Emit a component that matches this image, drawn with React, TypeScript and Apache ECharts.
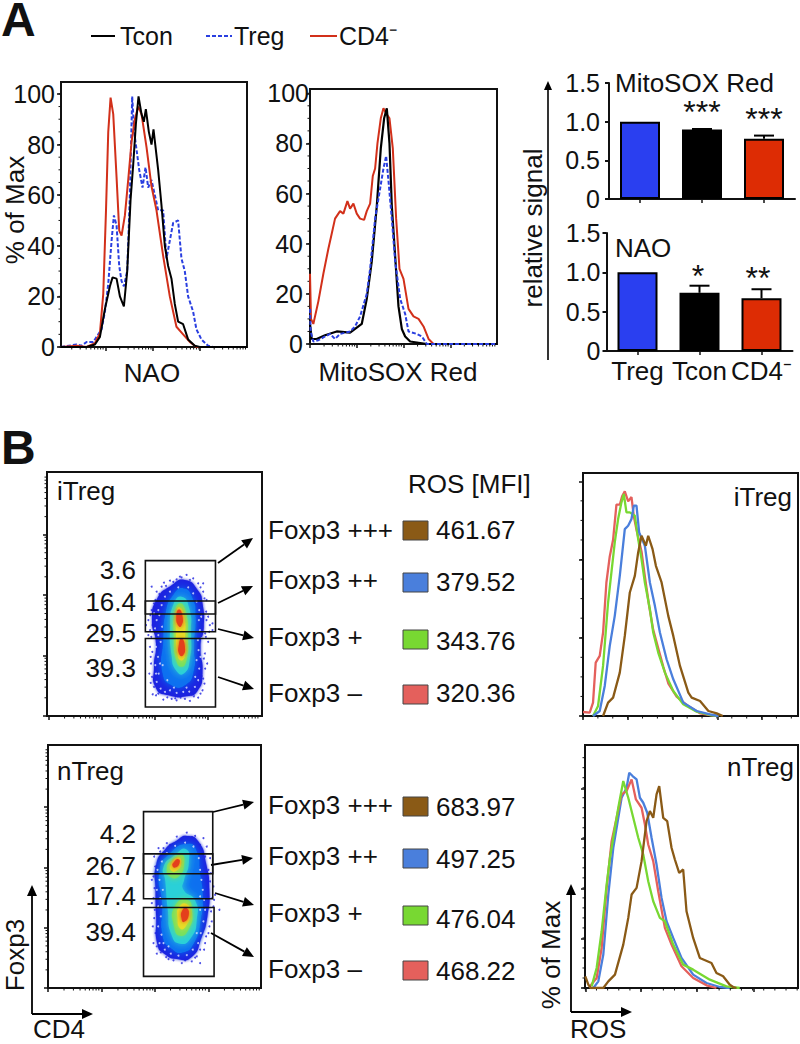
import React, { useEffect, useRef } from "react";
import * as echarts from "echarts";

// ---------- panel A histograms: [channel, % of max] ----------
const naoTcon = [[183,0],[260,0],[285,1],[300,4],[315,15],[330,24],[338,27.5],[350,27],[360,20],[372,16],[382,30],[392,58],[400,72],[408,88],[416,99],[425,92],[432,89],[438,94],[447,85],[455,80],[461,86],[468,78],[475,70],[485,56],[495,40],[505,32],[515,27],[525,17],[535,10],[550,9],[565,3],[585,0.5],[600,0],[742,0]];
const naoTreg = [[183,0],[230,1],[245,0.5],[260,2],[280,2],[295,5],[305,7],[315,14],[325,25],[335,42],[342,52],[350,48],[358,32],[365,26],[372,24],[382,30],[390,60],[397,99],[403,85],[410,78],[418,70],[428,63],[437,71],[445,63],[455,66],[465,60],[475,54],[490,54],[500,35],[510,42],[520,49],[535,50],[545,35],[555,30],[565,20],[580,14],[590,7],[605,3],[625,0.5],[640,0],[742,0]];
const naoCd4 = [[183,0],[230,0.5],[260,0],[285,1.5],[300,5.5],[310,21],[318,53],[325,85],[332,98.5],[340,92],[350,67],[358,46],[365,44],[375,52],[385,66],[395,81],[405,90],[415,95],[425,92],[440,79],[455,63.5],[470,54],[490,36],[510,20],[530,8],[550,5],[570,2],[590,0],[742,0]];
const mitoTcon = [[150,8],[155,2],[170,2],[195,3.5],[230,5],[270,4.5],[285,6],[305,8],[320,18],[335,33],[350,55],[362,78],[372,90],[380,94],[388,80],[395,55],[405,35],[415,15],[425,6],[435,3],[450,1],[475,0.5],[500,0],[710,0]];
const mitoTreg = [[150,14],[152,5],[160,1],[175,1.5],[195,3],[210,4],[225,2],[240,4],[270,5],[285,7],[300,11],[320,20],[330,30],[345,50],[360,62],[370,70],[378,75],[385,65],[395,50],[405,33],[420,18],[435,12],[445,5],[470,4],[485,3],[500,0],[710,0]];
const mitoCd4 = [[150,28],[153,10],[160,8],[175,17],[190,28],[205,38],[215,44],[225,50],[240,53],[250,52],[262,57],[270,54],[280,56],[290,52],[300,50],[312,49.5],[320,53],[330,56],[338,67],[345,70],[352,80],[362,90],[370,94],[378,92],[388,90],[398,78],[408,50],[418,30],[430,26],[445,14],[460,11],[475,10],[490,7],[505,2],[520,0],[710,0]];

// ---------- panel A bars ----------
const barCategories = ["Treg", "Tcon", "CD4⁻"];
const barColors = ["#2a3ff0", "#000000", "#dd2c04"];
const mitoBars = [1.0, 0.9, 0.78];
const mitoErrors = [0, 0.005, 0.04];
const naoBars = [1.0, 0.74, 0.67];
const naoErrors = [0, 0.09, 0.115];

// ---------- panel B ROS histograms: [channel, counts] ----------
const iHistRed = [[40,12],[60,10],[70,40],[78,160],[90,180],[100,250],[110,400],[120,478],[130,528],[140,633],[150,633],[157,658],[165,673],[175,643],[185,656],[192,598],[200,558],[215,493],[225,418],[238,328],[250,258],[265,203],[280,148],[295,98],[320,58],[350,33],[390,8],[420,3],[445,0]];
const iHistGreen = [[70,0],[85,30],[100,150],[115,340],[125,430],[135,520],[145,590],[155,640],[162,665],[170,610],[180,610],[195,600],[205,530],[215,470],[225,400],[240,320],[250,250],[265,190],[285,130],[310,75],[340,35],[380,13],[420,3],[445,0]];
const iHistBlue = [[70,0],[90,15],[105,90],[120,210],[135,300],[150,420],[165,560],[175,570],[185,590],[192,630],[200,630],[208,550],[225,510],[240,400],[255,330],[270,250],[290,170],[310,110],[340,40],[380,15],[420,5],[445,0]];
const iHistBrown = [[100,0],[115,40],[130,55],[150,130],[165,240],[180,370],[195,420],[205,490],[215,540],[228,510],[235,540],[248,500],[258,450],[275,400],[295,300],[310,240],[330,150],[355,70],[365,55],[390,45],[415,15],[440,8],[458,0]];
const nHistBlue = [[100,0],[115,20],[130,100],[145,280],[160,420],[175,510],[185,570],[200,600],[208,645],[218,635],[230,625],[240,570],[250,555],[262,525],[275,450],[290,370],[305,270],[320,200],[340,150],[365,90],[400,40],[440,15],[480,3],[510,0]];
const nHistRed = [[90,5],[110,30],[125,120],[140,300],[155,440],[170,510],[185,580],[200,590],[215,625],[228,565],[245,540],[255,490],[265,430],[280,380],[295,290],[315,180],[335,130],[365,65],[400,30],[440,8],[470,0]];
const nHistGreen = [[95,5],[110,60],[125,170],[140,310],[150,390],[160,450],[175,540],[190,620],[205,570],[220,510],[235,450],[250,400],[265,320],[280,260],[300,210],[315,200],[340,130],[370,70],[400,55],[450,25],[500,5],[540,0]];
const nHistBrown = [[76,35],[85,10],[92,0],[130,0],[145,20],[165,40],[190,130],[205,210],[215,280],[230,300],[245,380],[260,500],[270,530],[280,510],[290,580],[298,605],[310,510],[322,500],[335,420],[345,385],[358,345],[370,355],[380,230],[400,150],[420,90],[455,75],[470,45],[490,35],[510,10],[520,3],[530,0]];

// ---------- panel B dot plots: density contours [CD4, Foxp3 channel] (Foxp3 axis runs top-down) ----------
const densityColors = ["#1e22e0", "#0a70f0", "#2cd0d8", "#78e060", "#e6dc28", "#e4401a"];
const densityBlur = [3, 8, 8, 6, 5, 4];
const iTregContours = [
  [0, [[465,360],[505,392],[518,430],[522,500],[512,560],[518,640],[503,692],[470,708],[415,705],[378,684],[372,620],[378,550],[366,480],[382,415],[422,378]]],
  [1, [[460,385],[488,415],[497,470],[492,560],[492,630],[465,675],[425,675],[398,640],[400,540],[408,455],[430,405]]],
  [2, [[455,410],[478,445],[483,520],[480,595],[462,640],[438,630],[425,585],[421,500],[430,435]]],
  [3, [[450,430],[468,458],[474,530],[470,598],[455,620],[438,597],[432,530],[434,462]]],
  [4, [[448,442],[463,470],[466,540],[465,588],[452,600],[442,578],[438,510],[439,462]]],
  [5, [[447,448],[458,470],[454,498],[446,498],[439,470]]],
  [5, [[455,535],[465,560],[459,586],[448,582],[447,552]]],
];
const nTregContours = [
  [0, [[560,318],[595,335],[618,400],[628,480],[622,560],[604,625],[575,682],[530,688],[492,672],[472,645],[468,560],[466,480],[468,405],[495,358],[530,332]]],
  [1, [[565,342],[590,365],[600,430],[608,500],[602,570],[584,635],[548,668],[512,655],[488,622],[486,520],[478,425],[508,372]]],
  [2, [[558,358],[566,400],[552,450],[550,480],[585,512],[590,570],[572,625],[540,642],[514,615],[503,540],[495,450],[490,412],[522,378]]],
  [3, [[545,375],[552,400],[538,438],[512,442],[500,415],[517,390]]],
  [3, [[560,510],[576,545],[566,598],[540,618],[522,590],[523,532]]],
  [4, [[535,383],[543,400],[530,422],[514,423],[512,405]]],
  [4, [[558,522],[570,550],[558,588],[541,597],[532,560],[537,532]]],
  [5, [[535,388],[538,400],[525,413],[517,408],[521,397]]],
  [5, [[558,534],[566,555],[551,577],[544,565],[546,543]]],
];
const iTregSpeckle = [[470,345],[490,355],[440,358],[505,370],[420,362],[395,380],[520,395],[380,395],[530,420],[365,380],[372,430],[355,480],[360,510],[348,495],[535,470],[540,495],[528,530],[525,580],[532,610],[520,655],[518,690],[505,712],[480,722],[440,720],[400,718],[378,705],[362,668],[358,640],[362,590],[360,560],[548,490],[515,648],[425,716],[452,712],[368,702],[355,525],[520,370],[402,368],[450,350],[535,545],[365,450],[361,465],[368,495],[364,530],[367,575],[363,610],[366,650],[372,680],[385,700],[412,711],[436,714],[465,716],[492,708],[512,700],[524,670],[526,625],[522,595],[526,520],[529,455],[524,415],[512,382],[480,360],[455,352],[430,366],[408,378],[388,402],[376,420],[548,510],[538,515],[530,480]];
const iTregHoles = [[372,460],[380,480],[375,505],[385,525],[378,560],[384,590],[376,615],[386,640],[380,665],[392,685],[405,695],[420,690],[440,698],[460,695],[478,694],[495,680],[505,660],[508,625],[500,600],[506,570],[504,540],[510,510],[507,480],[508,450],[500,425],[490,400],[475,382],[445,382],[420,395],[405,410],[395,435],[388,465],[396,500],[392,545],[398,615],[412,660],[432,682],[470,682],[496,650],[512,590],[515,535],[514,470],[385,450],[378,640],[390,610],[368,520]];
const nTregSpeckle = [[560,308],[585,318],[610,325],[530,320],[500,340],[475,355],[632,430],[640,470],[645,495],[640,530],[658,540],[635,575],[625,610],[615,640],[600,700],[575,695],[545,700],[505,688],[470,672],[460,640],[458,590],[455,520],[455,450],[462,380],[620,350],[630,385],[642,510],[612,660],[590,680],[480,365],[465,410],[460,440],[463,475],[460,505],[464,540],[462,565],[466,610],[470,650],[482,668],[498,682],[520,692],[555,692],[585,684],[600,660],[618,620],[628,590],[633,545],[636,505],[630,455],[625,420],[615,380],[600,345],[575,322],[545,328],[510,345],[490,355]];
const nTregHoles = [[472,420],[478,450],[470,480],[480,505],[474,530],[482,560],[474,590],[484,615],[478,640],[494,660],[512,672],[535,678],[560,676],[578,660],[594,640],[602,610],[610,575],[615,540],[612,510],[608,480],[604,450],[600,420],[596,385],[580,350],[555,338],[525,348],[500,370],[485,395],[490,640],[505,650],[590,610],[600,540],[600,500],[488,480],[484,530]];

// ---------- gates, [x0, y0, x1, y1] ----------
const iTregGates = [[346,302,557,515],[346,423,557,462],[346,535,557,740]];
const nTregGates = [[430,245,638,507],[430,372,638,432],[430,533,642,740]];

// ---------- tick positions ----------
const naoMajor = [172, 316, 460, 600];
const mitoMajor = [150, 290, 430, 570];
const iFlowXMajor = [55, 215, 375, 533];
const iFlowYMajor = [767, 587, 405, 225];
const nFlowXMajor = [143, 305, 463, 625];
const nFlowYMajor = [775, 595, 413, 232];
const iHistXMajor = [40, 175, 308, 442, 575];
const iHistYMajor = [0, 233, 468, 703];
const nHistXMajor = [76, 243, 412, 582];
const nHistYMajor = [0, 147, 296, 446, 596];

// ---------- panel B table ----------
const populations = ["Foxp3 +++", "Foxp3 ++", "Foxp3 +", "Foxp3 –"];
const rosColors = ["#8a5a16", "#4a7fdc", "#78d832", "#e4605c"];
const iTregMfi = ["461.67", "379.52", "343.76", "320.36"];
const nTregMfi = ["683.97", "497.25", "476.04", "468.22"];
const iTregPercents = ["3.6", "16.4", "29.5", "39.3"];
const nTregPercents = ["4.2", "26.7", "17.4", "39.4"];

const FONT = '"Liberation Sans", Arial, sans-serif';
const logMinor = (majors: number[], decade: number, max: number, sign = 1) => {
  const out: number[] = [];
  majors.forEach((m) => {
    for (let k = 2; k <= 9; k++) {
      const v = m + sign * decade * Math.log10(k);
      if ((sign > 0 && v <= max) || (sign < 0 && v >= max)) out.push(v);
    }
  });
  return out;
};
const evenMinor = (min: number, max: number, step: number) => {
  const out: number[] = [];
  for (let v = min; v <= max; v += step) out.push(v);
  return out;
};

function buildOption() {
  const grids = [
    { left: 61, top: 82, width: 186, height: 265 },
    { left: 310, top: 89, width: 187, height: 255 },
    { left: 609, top: 83, width: 186, height: 116 },
    { left: 606.5, top: 233, width: 186, height: 118 },
    { left: 47, top: 472, width: 215, height: 244 },
    { left: 583, top: 473, width: 215, height: 243 },
    { left: 48, top: 745, width: 213, height: 243 },
    { left: 585, top: 745, width: 213, height: 243 },
  ].map((g, i) => ({
    ...g,
    show: i !== 2 && i !== 3,
    borderColor: "#111",
    borderWidth: 2,
    backgroundColor: "transparent",
  }));

  const line = { show: true, onZero: false, lineStyle: { color: "#111", width: 2 } };
  const xVal = (gridIndex: number, min: number, max: number, ticks: number[]) => ({
    type: "value", gridIndex, min, max, position: "bottom",
    axisLine: line,
    axisTick: { show: true, length: 4, customValues: ticks, lineStyle: { color: "#111", width: 1.5 } },
    axisLabel: { show: false }, splitLine: { show: false },
  });
  const yLabeled = (gridIndex: number, max: number, margin: number, hide100 = false) => ({
    type: "value", gridIndex, min: 0, max, interval: 20,
    axisLine: line,
    axisTick: { show: true, length: 4, lineStyle: { color: "#111", width: 1.5 }, customValues: [0, 20, 40, 60, 80, 100] },
    minorTick: { show: false },
    axisLabel: {
      show: true, margin, color: "#111", fontFamily: FONT, fontSize: 25,
      customValues: [0, 20, 40, 60, 80, 100],
      formatter: (v: number) => (hide100 && v === 100 ? "" : String(v)),
    },
    splitLine: { show: false },
  });
  const yPlain = (gridIndex: number, min: number, max: number, ticks: number[], inverse: boolean) => ({
    type: "value", gridIndex, min, max, inverse,
    axisLine: line,
    axisTick: { show: true, length: 4, customValues: ticks, lineStyle: { color: "#111", width: 1.5 } },
    axisLabel: { show: false }, splitLine: { show: false },
  });
  const barX = (gridIndex: number, showLabel: boolean) => ({
    type: "category", gridIndex, data: barCategories,
    axisLine: { show: true, lineStyle: { color: "#111", width: 2 } },
    axisTick: { show: true, alignWithLabel: true, length: 4, lineStyle: { color: "#111", width: 1.5 } },
    axisLabel: { show: showLabel, margin: 7, color: "#111", fontFamily: FONT, fontSize: 26, interval: 0 },
  });
  const barY = (gridIndex: number, margin: number) => ({
    type: "value", gridIndex, min: 0, max: 1.5, interval: 0.5,
    axisLine: { show: true, lineStyle: { color: "#111", width: 2 } },
    axisTick: { show: true, length: 4, lineStyle: { color: "#111", width: 2 } },
    axisLabel: {
      margin, color: "#111", fontFamily: FONT, fontSize: 25,
      formatter: (v: number) => (v === 0 ? "0" : v.toFixed(1)),
    },
    splitLine: { show: false },
  });

  const xAxis = [
    xVal(0, 183, 742, naoMajor),
    xVal(1, 150, 710, mitoMajor),
    barX(2, false),
    barX(3, true),
    xVal(4, 50, 697, iFlowXMajor),
    xVal(5, 40, 683, iHistXMajor),
    xVal(6, 143, 783, nFlowXMajor),
    xVal(7, 75, 715, nHistXMajor),
  ];
  const yAxis = [
    yLabeled(0, 104.7, 6),
    yLabeled(1, 101.7, 7, true),
    barY(2, 9),
    barY(3, 6),
    yPlain(4, 37, 767, iFlowYMajor, true),
    yPlain(5, 0, 728, iHistYMajor, false),
    yPlain(6, 45, 775, nFlowYMajor, true),
    yPlain(7, 0, 728, nHistYMajor, false),
  ];

  const lineS = (name: string, idx: number, data: number[][], color: string, width = 2, dashed = false) => ({
    type: "line", name, xAxisIndex: idx, yAxisIndex: idx, data, showSymbol: false, symbol: "none", silent: true,
    lineStyle: { color, width, type: dashed ? [4, 2] : "solid" }, z: 3,
  });

  const minorTicks = (idx: number, axis: "x" | "y", values: number[], anchor: number) => ({
    type: "custom", name: "minor ticks", xAxisIndex: idx, yAxisIndex: idx, silent: true, clip: false, z: 2,
    data: values.map((v) => [v]),
    renderItem: (_: any, api: any) => {
      const v = api.value(0);
      const p = axis === "x" ? api.coord([v, anchor]) : api.coord([anchor, v]);
      const shape = axis === "x"
        ? { x1: p[0], y1: p[1], x2: p[0], y2: p[1] + 2.5 }
        : { x1: p[0], y1: p[1], x2: p[0] - 2.5, y2: p[1] };
      return { type: "line", shape, style: { stroke: "#111", lineWidth: 1 } };
    },
  });

  const contourSeries = (idx: number, contours: any[]) => contours.map(([level, pts]: any) => ({
    type: "custom", name: "density", xAxisIndex: idx, yAxisIndex: idx, silent: true, z: 2,
    data: [[pts[0][0], pts[0][1]]],
    renderItem: (_: any, api: any) => ({
      type: "polygon",
      shape: { points: pts.map((p: number[]) => api.coord(p)), smooth: 0.6 },
      style: { fill: densityColors[level], shadowBlur: densityBlur[level], shadowColor: densityColors[level] },
    }),
  }));
  const speckle = (idx: number, data: number[][], color: string, size = 2) => ({
    type: "scatter", name: "events", xAxisIndex: idx, yAxisIndex: idx, data, symbolSize: size, silent: true, z: 2,
    itemStyle: { color },
  });
  const gates = (idx: number, data: number[][]) => ({
    type: "custom", name: "gates", xAxisIndex: idx, yAxisIndex: idx, silent: true, z: 4, data,
    encode: { x: [0, 2], y: [1, 3] },
    renderItem: (_: any, api: any) => {
      const a = api.coord([api.value(0), api.value(1)]);
      const b = api.coord([api.value(2), api.value(3)]);
      return {
        type: "rect",
        shape: { x: a[0], y: a[1], width: b[0] - a[0], height: b[1] - a[1] },
        style: { fill: "none", stroke: "#111", lineWidth: 1.6 },
      };
    },
  });
  const bars = (idx: number, values: number[]) => ({
    type: "bar", xAxisIndex: idx, yAxisIndex: idx, barWidth: 40, silent: true,
    data: values.map((v, i) => ({ value: v, itemStyle: { color: barColors[i], borderColor: "#000", borderWidth: 2 } })),
  });
  const errors = (idx: number, values: number[], errs: number[]) => ({
    type: "custom", name: "sem", xAxisIndex: idx, yAxisIndex: idx, silent: true, z: 5,
    data: values.map((v, i) => [i, v, v + errs[i]]),
    renderItem: (_: any, api: any) => {
      if (api.value(2) <= api.value(1)) return null;
      const c = api.value(0);
      const lo = api.coord([c, api.value(1)]);
      const hi = api.coord([c, api.value(2)]);
      const stroke = { stroke: "#000", lineWidth: 2 };
      return {
        type: "group",
        children: [
          { type: "line", shape: { x1: lo[0], y1: lo[1], x2: hi[0], y2: hi[1] }, style: stroke },
          { type: "line", shape: { x1: hi[0] - 10, y1: hi[1], x2: hi[0] + 10, y2: hi[1] }, style: stroke },
        ],
      };
    },
  });

  const series: any[] = [
    lineS("Treg", 0, naoTreg, "#2a3fe0", 2, true),
    lineS("CD4-", 0, naoCd4, "#d2301a", 2),
    lineS("Tcon", 0, naoTcon, "#000", 2),
    lineS("CD4-", 1, mitoCd4, "#d2301a", 2),
    lineS("Tcon", 1, mitoTcon, "#000", 2.2),
    lineS("Treg", 1, mitoTreg, "#2a3fe0", 2, true),
    minorTicks(0, "x", logMinor(naoMajor, 144, 742), 0),
    minorTicks(1, "x", logMinor(mitoMajor, 140, 710), 0),
    minorTicks(0, "y", evenMinor(0, 100, 5), 183),
    minorTicks(1, "y", evenMinor(0, 100, 5), 150),
    bars(2, mitoBars), errors(2, mitoBars, mitoErrors),
    bars(3, naoBars), errors(3, naoBars, naoErrors),
    speckle(4, iTregSpeckle, densityColors[0]),
    ...contourSeries(4, iTregContours.slice(0, 2)),
    speckle(4, iTregHoles, "#dfe6ff", 2),
    ...contourSeries(4, iTregContours.slice(2)),
    gates(4, iTregGates),
    speckle(6, nTregSpeckle, densityColors[0]),
    ...contourSeries(6, nTregContours.slice(0, 2)),
    speckle(6, nTregHoles, "#dfe6ff", 2),
    ...contourSeries(6, nTregContours.slice(2)),
    gates(6, nTregGates),
    minorTicks(4, "x", logMinor(iFlowXMajor, 159, 697), 767),
    minorTicks(4, "y", logMinor(iFlowYMajor, 181, 37, -1), 50),
    minorTicks(6, "x", logMinor(nFlowXMajor, 160, 783), 775),
    minorTicks(6, "y", logMinor(nFlowYMajor, 181, 45, -1), 143),
    minorTicks(5, "x", evenMinor(40, 683, 44.5), 0),
    minorTicks(5, "y", evenMinor(0, 703, 58.6), 40),
    minorTicks(7, "x", evenMinor(76, 715, 33.5), 0),
    minorTicks(7, "y", evenMinor(0, 700, 30), 75),
    lineS("Foxp3 -", 5, iHistRed, rosColors[3], 2.3),
    lineS("Foxp3 +", 5, iHistGreen, rosColors[2], 2.3),
    lineS("Foxp3 ++", 5, iHistBlue, rosColors[1], 2.3),
    lineS("Foxp3 +++", 5, iHistBrown, rosColors[0], 2.3),
    lineS("Foxp3 ++", 7, nHistBlue, rosColors[1], 2.3),
    lineS("Foxp3 -", 7, nHistRed, rosColors[3], 2.3),
    lineS("Foxp3 +", 7, nHistGreen, rosColors[2], 2.3),
    lineS("Foxp3 +++", 7, nHistBrown, rosColors[0], 2.3),
  ];

  const graphic: any[] = [];
  const text = (t: string, x: number, y: number, size = 26, align = "left", extra: any = {}) => {
    graphic.push({
      type: "text", x, y, rotation: extra.rotation || 0, silent: true,
      style: {
        text: t, fill: "#111", textAlign: align, textVerticalAlign: "middle",
        font: `${extra.weight || "normal"} ${size}px ${FONT}`,
      },
    });
  };
  const seg = (x1: number, y1: number, x2: number, y2: number, color = "#000", width = 2, dash?: number[]) => {
    graphic.push({ type: "line", silent: true, shape: { x1, y1, x2, y2 }, style: { stroke: color, lineWidth: width, lineDash: dash } });
  };
  const arrow = (x1: number, y1: number, x2: number, y2: number, len = 11, half = 5, width = 1.8) => {
    const a = Math.atan2(y2 - y1, x2 - x1);
    const bx = x2 - len * Math.cos(a), by = y2 - len * Math.sin(a);
    seg(x1, y1, bx, by, "#000", width);
    graphic.push({
      type: "polygon", silent: true,
      shape: { points: [[x2, y2], [bx - half * Math.sin(a), by + half * Math.cos(a)], [bx + half * Math.sin(a), by - half * Math.cos(a)]] },
      style: { fill: "#000" },
    });
  };

  text("A", 1, 19, 48, "left", { weight: "bold" });
  text("B", 1, 447, 48, "left", { weight: "bold" });
  seg(91, 36, 115, 36, "#000", 2);
  text("Tcon", 120, 36, 25);
  seg(206, 36, 232, 36, "#2a3fe0", 2, [4, 2]);
  text("Treg", 234, 36, 25);
  seg(310, 36, 337, 36, "#d2301a", 2);
  text("CD4⁻", 339, 36, 25);

  text("% of Max", 15, 210, 26, "center", { rotation: Math.PI / 2 });
  text("NAO", 152, 373, 26, "center");
  text("100", 309, 93, 25, "right");
  text("MitoSOX Red", 398, 372, 26, "center");
  text("relative signal", 533, 228, 26, "center", { rotation: Math.PI / 2 });
  arrow(548, 360, 548, 81, 9, 4, 1.6);
  text("MitoSOX Red", 615, 83, 26);
  text("NAO", 615, 248, 26);
  text("***", 702, 112, 32, "center");
  text("***", 764, 119, 32, "center");
  text("*", 698, 276, 32, "center");
  text("**", 758, 278, 32, "center");

  text("iTreg", 57, 491, 26);
  text("nTreg", 57, 771, 26);
  text("iTreg", 792, 497, 26, "right");
  text("nTreg", 794, 767, 26, "right");
  iTregPercents.forEach((t, i) => text(t, 136, [570, 602, 633, 668][i], 26, "right"));
  nTregPercents.forEach((t, i) => text(t, 136, [834, 866, 896, 932][i], 26, "right"));
  arrow(218, 563, 253, 538); arrow(218, 603, 253, 586); arrow(218, 629, 254, 638); arrow(218, 677, 254, 689);
  arrow(213, 812, 254, 802); arrow(211, 865, 253, 858); arrow(215, 893, 254, 905); arrow(211, 933, 254, 957);

  text("ROS [MFI]", 408, 484, 26);
  const iRows = { label: [530, 580, 637, 693], swatch: [521, 573, 630, 685], val: [530, 582, 641, 693] };
  const nRows = { label: [805, 856, 913, 969], swatch: [797, 849, 906, 961], val: [807, 859, 919, 971] };
  [[iRows, iTregMfi], [nRows, nTregMfi]].forEach(([r, vals]: any) => {
    populations.forEach((p, i) => {
      text(p, 268, r.label[i], 26);
      graphic.push({
        type: "rect", silent: true,
        shape: { x: 403, y: r.swatch[i], width: 25, height: 19 },
        style: { fill: rosColors[i], stroke: "#444", lineWidth: 1 },
      });
      text(vals[i], 436, r.val[i], 26);
    });
  });

  arrow(32, 1014, 32, 885, 11, 5);
  arrow(32, 1014, 93, 1014, 11, 5);
  text("Foxp3", 15, 955, 26, "center", { rotation: Math.PI / 2 });
  text("CD4", 33, 1029, 26);
  arrow(571, 1012, 571, 884, 11, 5);
  arrow(571, 1012, 632, 1012, 11, 5);
  text("% of Max", 551, 955, 26, "center", { rotation: Math.PI / 2 });
  text("ROS", 570, 1029, 26);

  return { animation: false, backgroundColor: "#fff", textStyle: { fontFamily: FONT }, grid: grids, xAxis, yAxis, series, graphic };
}

export default function App() {
  const ref = useRef<HTMLDivElement>(null);
  useEffect(() => {
    const chart = echarts.init(ref.current!, undefined, { renderer: "svg" });
    chart.setOption(buildOption() as any);
    return () => chart.dispose();
  }, []);
  return <div ref={ref} style={{ position: "fixed", left: 0, top: 0, width: 800, height: 1044 }} />;
}
